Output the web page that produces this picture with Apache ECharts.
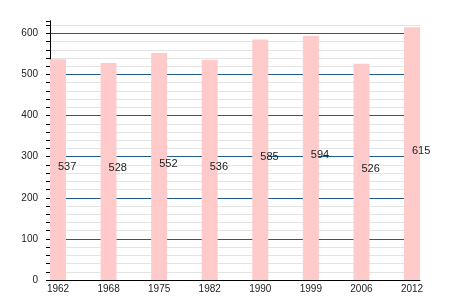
<!DOCTYPE html>
<html><head><meta charset="utf-8">
<script src="https://cdn.jsdelivr.net/npm/echarts@6/dist/echarts.min.js"></script>
<style>html,body{margin:0;padding:0;background:#fff}#c{width:450px;height:300px}</style>
</head><body><div id="c"></div>
<script>
const years = ['1962','1968','1975','1982','1990','1999','2006','2012'];
const values = [537, 528, 552, 536, 585, 594, 526, 615];
const yTicks = [0, 100, 200, 300, 400, 500, 600];

const chart = echarts.init(document.getElementById('c'), null, {renderer:'canvas'});
const font = 'Liberation Sans, Arial, sans-serif';
chart.setOption({
  animation: false,
  grid: [
    {left: 50, right: 30, top: 21, bottom: 20},
    {left: 58, right: 38, top: 21, bottom: 20}
  ],
  xAxis: [{
    gridIndex: 0, type: 'value', min: 0, max: 1, z: 5,
    splitLine: {show: false}, axisTick: {show: false}, axisLabel: {show: false},
    axisLine: {onZero: false, lineStyle: {color: '#000', width: 1}}
  }, {
    gridIndex: 1, type: 'value', min: 0, max: years.length - 1, interval: 1,
    splitLine: {show: false}, axisTick: {show: false}, axisLine: {show: false},
    axisLabel: {
      fontFamily: font, fontSize: 10, color: '#222', margin: 4,
      formatter: v => years[Math.round(v)] || ''
    }
  }],
  yAxis: [{
    gridIndex: 0, type: 'value', min: 0, max: 630, interval: 100, z: 2,
    axisLine: {show: true, onZero: false, lineStyle: {color: '#000'}},
    axisTick: {show: false},
    axisLabel: {fontFamily: font, fontSize: 10, color: '#222', margin: 12, showMaxLabel: false,
      formatter: v => yTicks.includes(v) ? String(v) : ''},
    splitLine: {show: true, showMaxLine: false, showMinLine: false, lineStyle: {color: '#1f5c8c', width: 1}}
  }, {
    gridIndex: 0, type: 'value', min: 0, max: 630, interval: 20, position: 'left', z: 1,
    axisLine: {show: true, onZero: false, lineStyle: {color: '#000'}},
    axisTick: {show: true, length: 4, lineStyle: {color: '#000'}},
    axisLabel: {show: false},
    splitLine: {show: true, showMaxLine: false, showMinLine: false, lineStyle: {color: '#e4e4e4', width: 1}}
  }, {
    gridIndex: 1, type: 'value', min: 0, max: 630, show: false
  }],
  series: [{
    type: 'bar', xAxisIndex: 1, yAxisIndex: 2, barWidth: 16, z: 3, clip: false,
    itemStyle: {color: '#ffcaca'},
    data: values.map((v, i) => [i, v]),
    label: {
      show: true, position: ['50%', '50%'], align: 'left', verticalAlign: 'middle',
      offset: [0, -3], fontFamily: font, fontSize: 11, color: '#222',
      formatter: p => String(p.value[1])
    }
  }]
});
</script></body></html>
